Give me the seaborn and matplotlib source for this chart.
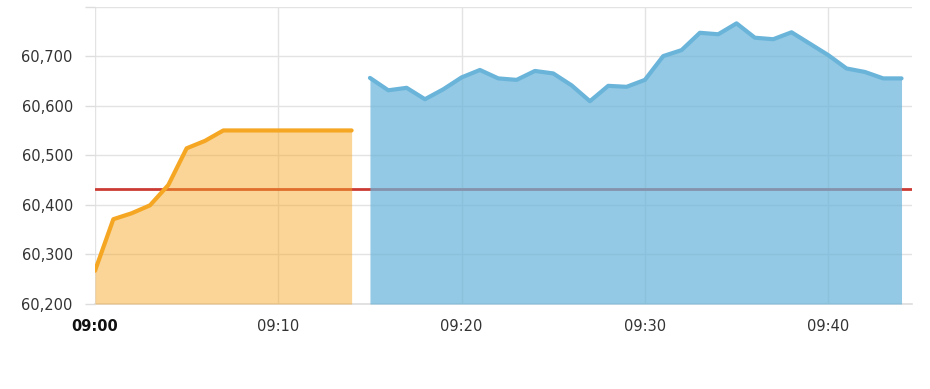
import matplotlib
matplotlib.use("Agg")
import matplotlib.pyplot as plt
import seaborn as sns
import pandas as pd
import numpy as np

# Data (minutes after 09:00)
pre_minutes = list(range(0, 15))
pre_values = [60267, 60371, 60383, 60399, 60440, 60514, 60529, 60550,
              60550, 60550, 60550, 60550, 60550, 60550, 60550]
main_minutes = list(range(15, 45))
main_values = [60656, 60631, 60636, 60613, 60633, 60657, 60672, 60655, 60652, 60670,
               60665, 60641, 60609, 60640, 60638, 60652, 60700, 60712, 60747, 60744,
               60766, 60737, 60734, 60748, 60725, 60702, 60675, 60668, 60655, 60655]
reference_level = 60432
x_tick_minutes = [0, 10, 20, 30, 40]
x_tick_labels = ["09:00", "09:10", "09:20", "09:30", "09:40"]
y_ticks = [60200, 60300, 60400, 60500, 60600, 60700, 60800]

sns.set_theme(style="white")
plt.rcParams['font.family'] = ['DejaVu Sans']

fig = plt.figure(figsize=(9.3, 3.89), dpi=100)
ax = fig.add_axes([95/930, 1-304/389, (912-95)/930, (304-6.5)/389])

pre_df = pd.DataFrame({"minute": pre_minutes, "value": pre_values})
main_df = pd.DataFrame({"minute": main_minutes, "value": main_values})

orange = "#F5A623"
blue = "#6AB4DA"

ax.axhline(reference_level, color="#CC3B33", lw=2, zorder=2)

ax.fill_between(pre_df["minute"], pre_df["value"], 60200, color=orange, alpha=0.47, lw=0, zorder=3)
ax.fill_between(main_df["minute"], main_df["value"], 60200, color=blue, alpha=0.72, lw=0, zorder=3)
sns.lineplot(data=pre_df, x="minute", y="value", ax=ax, color=orange, lw=3, zorder=4)
sns.lineplot(data=main_df, x="minute", y="value", ax=ax, color=blue, lw=3, zorder=4)

ax.set_xlim(0, (912-95)/18.33)
ax.set_ylim(60200, 60800)
ax.set_xlabel("")
ax.set_ylabel("")

ax.set_yticks(y_ticks)
ylabels = [f"{v:,}" for v in y_ticks]
ylabels[-1] = ""
ax.set_yticklabels(ylabels, fontsize=10.5, color="#333333")
ax.set_xticks(x_tick_minutes)
ax.set_xticklabels(x_tick_labels, fontsize=10.5, color="#333333",
                   family=['Liberation Sans Narrow', 'DejaVu Sans'])
ax.get_xticklabels()[0].set_fontweight("bold")
ax.get_xticklabels()[0].set_color("#111111")

ax.tick_params(axis="y", length=7, width=1, color="#dddddd", pad=9, left=True)
ax.tick_params(axis="x", length=0, pad=11)

ax.grid(True, color="#e3e3e3", lw=1, zorder=0)
ax.set_axisbelow(True)
for s in ["top", "right", "left"]:
    ax.spines[s].set_visible(False)
ax.spines["bottom"].set_color("#dddddd")
ax.spines["bottom"].set_linewidth(1.2)

fig.savefig("out.png", dpi=100)
